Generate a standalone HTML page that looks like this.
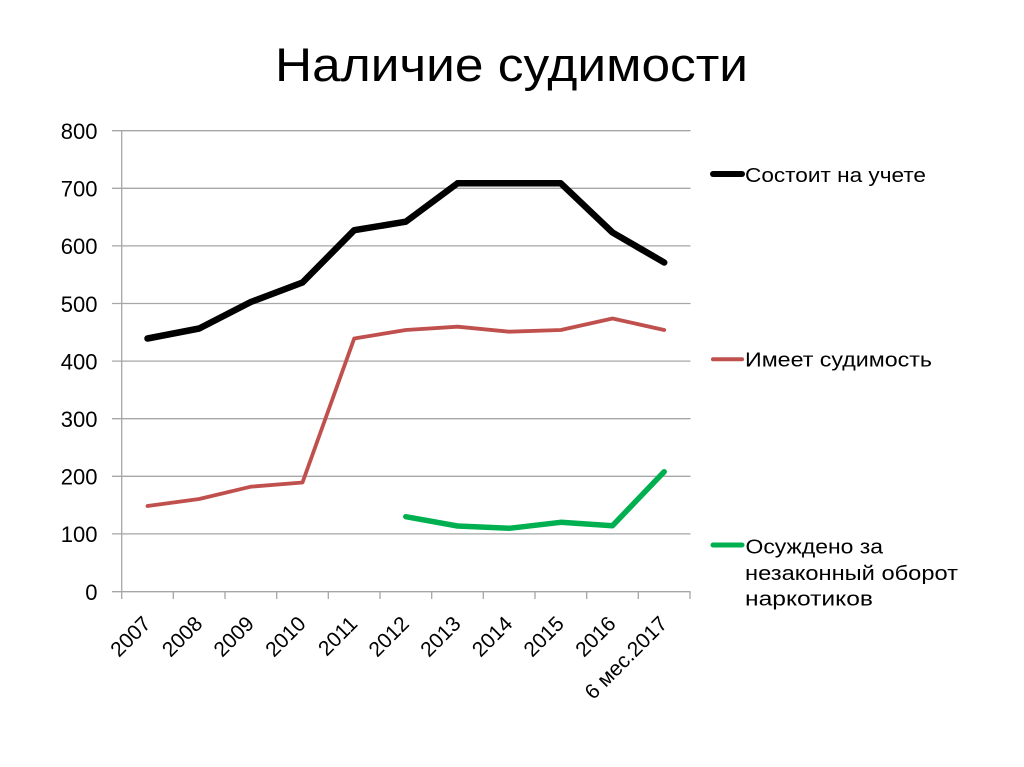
<!DOCTYPE html>
<html>
<head>
<meta charset="utf-8">
<style>
html,body{margin:0;padding:0;background:#fff;}
svg{display:block;}
text{font-family:"Liberation Sans","DejaVu Sans",sans-serif;fill:#000;}
</style>
</head>
<body>
<svg width="1024" height="767" viewBox="0 0 1024 767" xmlns="http://www.w3.org/2000/svg">
<rect width="1024" height="767" fill="#fff"/>
<!-- Title -->
<text x="275" y="81" font-size="47" textLength="473" lengthAdjust="spacingAndGlyphs">Наличие судимости</text>

<!-- Gridlines -->
<g stroke="#a6a6a6" stroke-width="1.3">
<line x1="112" y1="130.7" x2="690.5" y2="130.7"/>
<line x1="112" y1="188.3" x2="690.5" y2="188.3"/>
<line x1="112" y1="245.9" x2="690.5" y2="245.9"/>
<line x1="112" y1="303.5" x2="690.5" y2="303.5"/>
<line x1="112" y1="361.1" x2="690.5" y2="361.1"/>
<line x1="112" y1="418.7" x2="690.5" y2="418.7"/>
<line x1="112" y1="476.3" x2="690.5" y2="476.3"/>
<line x1="112" y1="533.9" x2="690.5" y2="533.9"/>
<line x1="112" y1="591.7" x2="690.5" y2="591.7"/>
<!-- y axis -->
<line x1="121.7" y1="130.7" x2="121.7" y2="599"/>
<!-- x ticks -->
<line x1="173.3" y1="591.7" x2="173.3" y2="599"/>
<line x1="225" y1="591.7" x2="225" y2="599"/>
<line x1="276.7" y1="591.7" x2="276.7" y2="599"/>
<line x1="328.3" y1="591.7" x2="328.3" y2="599"/>
<line x1="380" y1="591.7" x2="380" y2="599"/>
<line x1="431.7" y1="591.7" x2="431.7" y2="599"/>
<line x1="483.3" y1="591.7" x2="483.3" y2="599"/>
<line x1="535" y1="591.7" x2="535" y2="599"/>
<line x1="586.7" y1="591.7" x2="586.7" y2="599"/>
<line x1="638.3" y1="591.7" x2="638.3" y2="599"/>
<line x1="690" y1="591.7" x2="690" y2="599"/>
</g>

<!-- Y labels -->
<g font-size="22" text-anchor="end">
<text x="97.5" y="139">800</text>
<text x="97.5" y="196.6">700</text>
<text x="97.5" y="254.2">600</text>
<text x="97.5" y="311.8">500</text>
<text x="97.5" y="369.4">400</text>
<text x="97.5" y="427">300</text>
<text x="97.5" y="484.6">200</text>
<text x="97.5" y="542.2">100</text>
<text x="97.5" y="600">0</text>
</g>

<!-- X labels -->
<g font-size="21" text-anchor="end">
<text transform="translate(152,625) rotate(-45)">2007</text>
<text transform="translate(203.7,625) rotate(-45)">2008</text>
<text transform="translate(255.3,625) rotate(-45)">2009</text>
<text transform="translate(307,625) rotate(-45)">2010</text>
<text transform="translate(358.7,625) rotate(-45)">2011</text>
<text transform="translate(410.3,625) rotate(-45)">2012</text>
<text transform="translate(462,625) rotate(-45)">2013</text>
<text transform="translate(513.7,625) rotate(-45)">2014</text>
<text transform="translate(565.3,625) rotate(-45)">2015</text>
<text transform="translate(617,625) rotate(-45)">2016</text>
<text transform="translate(668.7,625) rotate(-45)">6 мес.2017</text>
</g>

<!-- Series -->
<polyline fill="none" stroke="#000" stroke-width="6.5" stroke-linejoin="round" stroke-linecap="round"
 points="147.5,338.5 199.2,328.5 250.8,302 302.5,282.5 354.2,230.2 405.8,221.7 457.5,183.3 509.2,183.3 560.8,183.3 612.5,232.5 664.2,262.5"/>
<polyline fill="none" stroke="#c0504d" stroke-width="3.8" stroke-linejoin="round" stroke-linecap="round"
 points="147.5,506 199.2,499 250.8,486.7 302.5,482.5 354.2,338.5 405.8,330 457.5,326.7 509.2,331.7 560.8,330 612.5,318.5 664.2,330"/>
<polyline fill="none" stroke="#00b050" stroke-width="5.5" stroke-linejoin="round" stroke-linecap="round"
 points="405.8,516.7 457.5,526 509.2,528.3 560.8,522.3 612.5,525.7 664.2,471.7"/>

<!-- Legend -->
<line x1="713" y1="174" x2="742" y2="174" stroke="#000" stroke-width="6" stroke-linecap="round"/>
<text x="745" y="182" font-size="20" textLength="181" lengthAdjust="spacingAndGlyphs">Состоит на учете</text>

<line x1="713" y1="359.3" x2="742" y2="359.3" stroke="#c0504d" stroke-width="4" stroke-linecap="round"/>
<text x="745" y="366.7" font-size="20" textLength="187" lengthAdjust="spacingAndGlyphs">Имеет судимость</text>

<line x1="713" y1="545" x2="742" y2="545" stroke="#00b050" stroke-width="5" stroke-linecap="round"/>
<text x="745.5" y="553.3" font-size="20" textLength="137.5" lengthAdjust="spacingAndGlyphs">Осуждено за</text>
<text x="745" y="580" font-size="20" textLength="213" lengthAdjust="spacingAndGlyphs">незаконный оборот</text>
<text x="745" y="605.5" font-size="20" textLength="128" lengthAdjust="spacingAndGlyphs">наркотиков</text>
</svg>
</body>
</html>
